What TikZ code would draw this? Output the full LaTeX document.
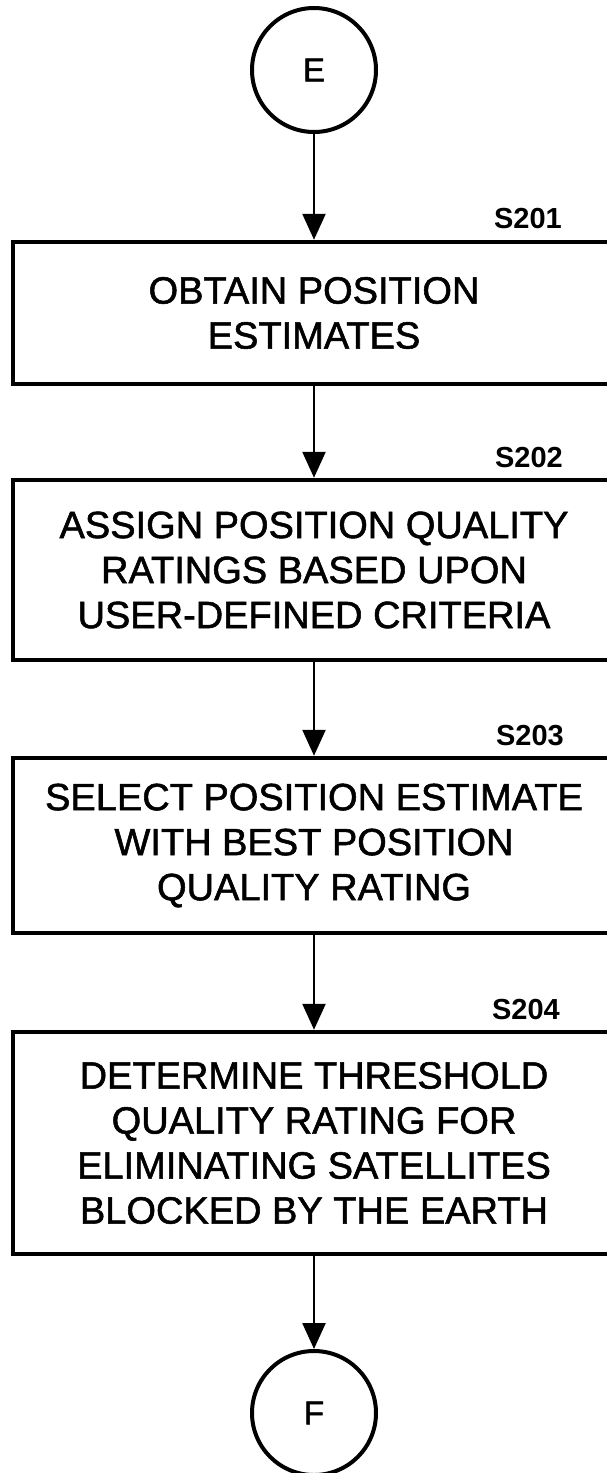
\documentclass[tikz,border=0pt]{standalone}
\usepackage{fontspec}
\setmainfont{Liberation Sans}
\newfontfamily\diafont{Liberation Sans}[FakeBold=1.4]
\usetikzlibrary{arrows.meta}
\begin{document}
\begin{tikzpicture}[x=1pt,y=-1pt,
  stepbox/.style={draw, line width=4.5pt, inner sep=0pt, minimum width=602pt, align=center,
    font=\diafont\fontsize{38}{45}\selectfont},
  conn/.style={draw, circle, line width=4pt, minimum size=124pt, inner sep=0pt,
    font=\diafont\fontsize{33}{40}\selectfont},
  lab/.style={anchor=base east, inner sep=0pt, font=\bfseries\fontsize{29}{34}\selectfont},
  arr/.style={line width=2.5pt, -{Triangle[length=26pt,width=23pt]}}]
\useasboundingbox (0,0) rectangle (607,1473);
\node[conn] (E) at (314,70) {E};
\node[stepbox, minimum height=142pt] (b1) at (314,313) {OBTAIN POSITION\\ESTIMATES};
\node[stepbox, minimum height=180pt] (b2) at (314,570) {ASSIGN POSITION QUALITY\\RATINGS BASED UPON\\USER-DEFINED CRITERIA};
\node[stepbox, minimum height=175pt] (b3) at (314,845.5) {SELECT POSITION ESTIMATE\\WITH BEST POSITION\\QUALITY RATING};
\node[stepbox, minimum height=222pt] (b4) at (314,1143) {DETERMINE THRESHOLD\\QUALITY RATING FOR\\ELIMINATING SATELLITES\\BLOCKED BY THE EARTH};
\node[conn] (F) at (314,1413) {F};
\node[lab] (l1) at (562,228) {S201};
\node[lab] (l2) at (563,467) {S202};
\node[lab] (l3) at (564,745) {S203};
\node[lab] (l4) at (560,1019) {S204};
\draw[arr] (E) -- (b1);
\draw[arr] (b1) -- (b2);
\draw[arr] (b2) -- (b3);
\draw[arr] (b3) -- (b4);
\draw[arr] (b4) -- (F);
\end{tikzpicture}
\end{document}
